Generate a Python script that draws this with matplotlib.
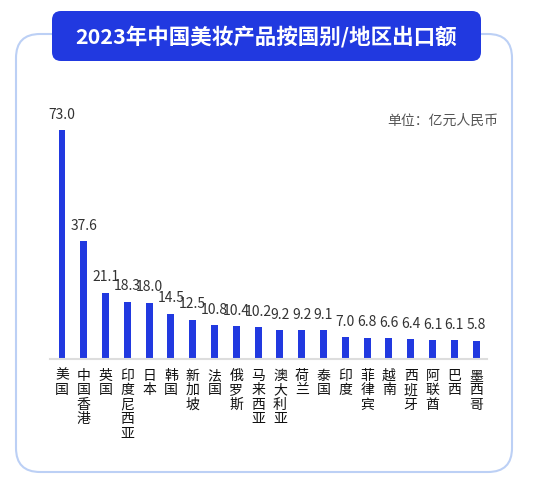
import matplotlib
matplotlib.use("Agg")
import matplotlib.pyplot as plt
from matplotlib.patches import FancyBboxPatch

plt.rcParams['font.family'] = ['Noto Sans CJK SC', 'DejaVu Sans']

countries = ["美国", "中国香港", "英国", "印度尼西亚", "日本", "韩国", "新加坡", "法国",
             "俄罗斯", "马来西亚", "澳大利亚", "荷兰", "泰国", "印度", "菲律宾", "越南",
             "西班牙", "阿联酋", "巴西", "墨西哥"]
exports = [73.0, 37.6, 21.1, 18.3, 18.0, 14.5, 12.5, 10.8, 10.4, 10.2,
           9.2, 9.2, 9.1, 7.0, 6.8, 6.6, 6.4, 6.1, 6.1, 5.8]

title = "2023年中国美妆产品按国别/地区出口额"
unit = "单位：亿元人民币"

blue = "#2139E0"
W, H = 538, 484

fig = plt.figure(figsize=(W / 100, H / 100), dpi=100)

# background card + title banner, drawn in pixel coords
bg = fig.add_axes([0, 0, 1, 1], zorder=0)
bg.set_xlim(0, W)
bg.set_ylim(H, 0)
bg.axis("off")
card = FancyBboxPatch((16, 34), 496, 438, boxstyle="round,pad=0,rounding_size=24",
                      facecolor="white", edgecolor="#BCD0F5", linewidth=1.5)
bg.add_patch(card)
banner = FancyBboxPatch((52, 11), 429, 50, boxstyle="round,pad=0,rounding_size=9",
                        facecolor=blue, edgecolor="none")
bg.add_patch(banner)
bg.text(266, 37, title, color="white", fontsize=15.5, fontweight="bold",
        ha="center", va="center")
bg.text(498, 121, unit, color="#555555", fontsize=10, ha="right", va="center")

# bar chart
ax = fig.add_axes([50 / W, (H - 359) / H, 437 / W, 251 / H], zorder=1)
ax.set_facecolor("none")
x = list(range(len(countries)))
bars = ax.bar(x, exports, width=0.32, color=blue)
for xi, v in zip(x, exports):
    ax.annotate(f"{v:.1f}", (xi, v), xytext=(0, 6), textcoords="offset points",
                ha="center", va="bottom", fontsize=10, color="#333333")

ax.set_xlim(-0.55, 19.5)
ax.set_ylim(0, 80)
ax.set_xticks(x)
ax.set_xticklabels(["\n".join(c) for c in countries], fontsize=10, color="#111111",
                   va="top", linespacing=1.05)
ax.tick_params(axis="x", length=0, pad=7)
ax.set_yticks([])
for s in ["top", "right", "left"]:
    ax.spines[s].set_visible(False)
ax.spines["bottom"].set_color("#DDDDDD")
ax.spines["bottom"].set_linewidth(1.5)

fig.savefig("out.png", dpi=100, facecolor="white")
